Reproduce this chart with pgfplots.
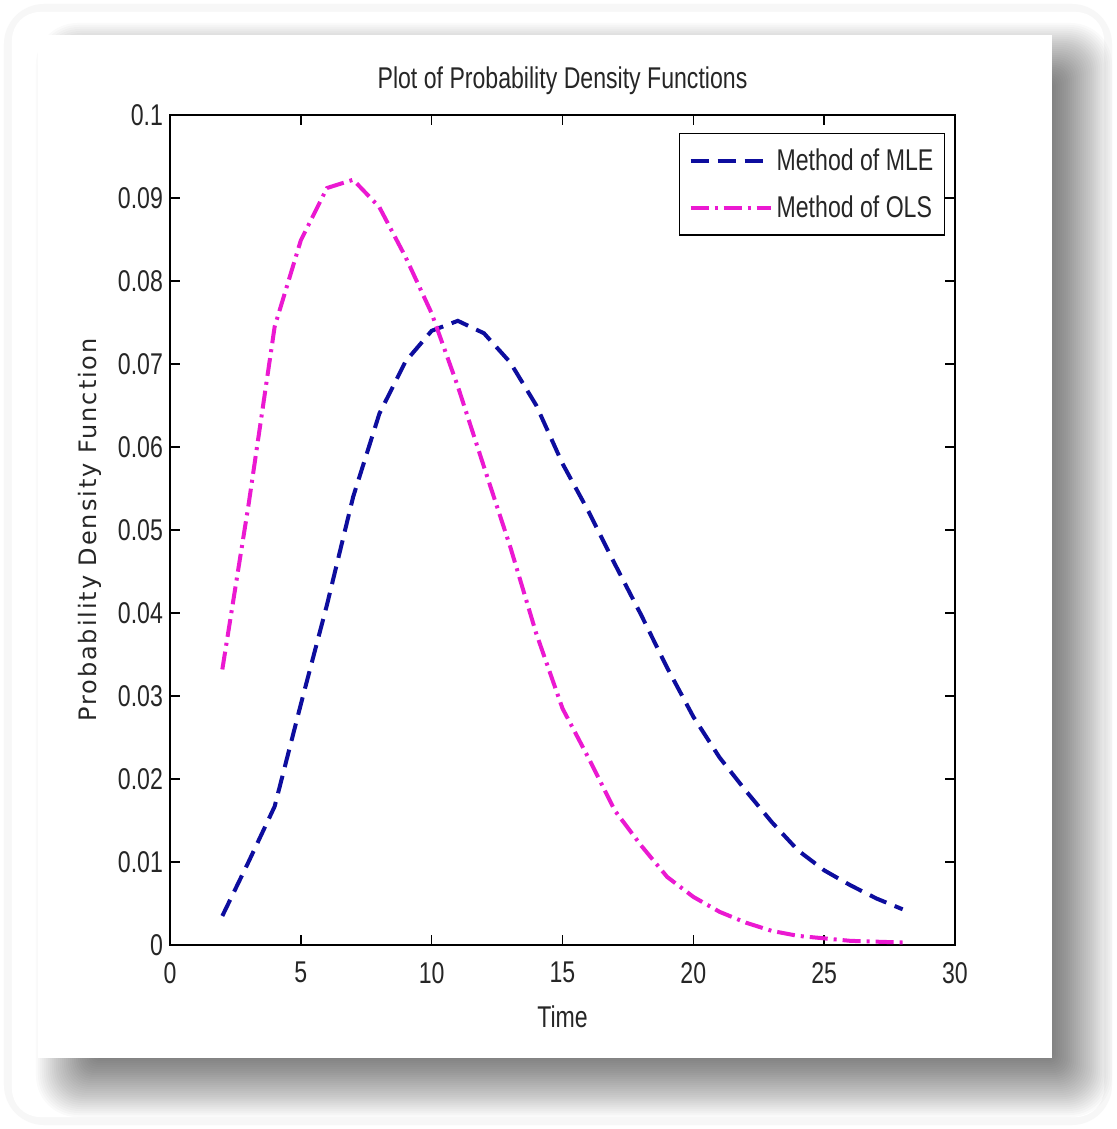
\documentclass[border=0pt]{standalone}
\usepackage{fontspec}
\setmainfont{Liberation Sans}[FakeStretch=0.77]
\newfontfamily\ylfont{DejaVu Sans}[LetterSpace=8]
\usepackage{pgfplots}
\pgfplotsset{compat=1.18}
\definecolor{mleblue}{rgb}{0.05,0.05,0.62}
\definecolor{olsmag}{rgb}{0.92,0.10,0.82}
\newcommand{\mfont}{\fontsize{15}{18}\selectfont}
\begin{document}
\begin{tikzpicture}
\useasboundingbox (-85pt,-92pt) rectangle (473pt,472.5pt);
\fill[white] (-85pt,-92pt) rectangle (473pt,472.5pt);
\fill[black!3, rounded corners=20pt] (-83pt,-90pt) rectangle (471pt,470.5pt);
\fill[white, rounded corners=14pt] (-79pt,-86pt) rectangle (467pt,466.5pt);
\foreach \i in {0,...,31} {
  \fill[black, opacity=0.021, rounded corners={2pt+\i*0.6pt}]
    ({-36pt-\i*1pt},{-55pt-\i*1pt}) rectangle ({440pt+\i*1pt},{430pt+\i*1pt});
}
\fill[white] (-66pt,-56.5pt) rectangle (441pt,455pt);
\begin{axis}[
  at={(0,0)}, anchor=south west,
  scale only axis, width=392.5pt, height=415pt,
  xmin=0, xmax=30, ymin=0, ymax=0.1,
  xtick={0,5,10,15,20,25,30},
  xticklabels={0,5,10,15,20,25,30},
  ytick={0,0.01,0.02,0.03,0.04,0.05,0.06,0.07,0.08,0.09,0.1},
  yticklabels={0,0.01,0.02,0.03,0.04,0.05,0.06,0.07,0.08,0.09,0.1},
  tick align=inside, major tick length=5pt,
  tick style={black, line width=0.7pt},
  axis line style={black, line width=0.9pt},
  ticklabel style={font=\mfont, text=black!85},
  xticklabel style={yshift=-5pt},
  title={Plot of Probability Density Functions},
  title style={font=\mfont, text=black!85, at={(axis description cs:0.5,1)}, anchor=base, yshift=7pt},
  xlabel={Time},
  xlabel style={font=\mfont, text=black!85, at={(axis description cs:0.5,0)}, anchor=base, yshift=-41pt},
  ylabel={Probability Density Function},
  ylabel style={font=\ylfont\fontsize{12}{14}\selectfont, text=black!85, at={(axis description cs:-0.102,0.5)}, anchor=center},
  legend style={at={(axis description cs:1,1)}, anchor=north east, xshift=-5pt, yshift=-9pt,
    draw=black, line width=0.7pt, font=\mfont, text=black!85,
    inner xsep=4.5pt, inner ysep=6.5pt, row sep=9pt, column sep=1pt,
    nodes={inner sep=1pt}},
  legend cell align=left,
  legend image code/.code={\draw[#1] (0pt,0pt) -- (40pt,0pt);},
]
\addplot[mleblue, line width=2pt, dash pattern=on 9pt off 4.5pt] coordinates {
(2,0.0035) (3,0.0100) (4,0.0167) (5,0.0290) (6,0.0410) (7,0.0540) (8,0.0640)
(9,0.0703) (10,0.0740) (11,0.0752) (12,0.0737) (13,0.0702) (14,0.0650)
(15,0.0580) (16,0.0522) (17,0.0459) (18,0.0398) (19,0.0334) (20,0.0275)
(21,0.0226) (22,0.0186) (23,0.0148) (24,0.0114) (25,0.0090) (26,0.0072)
(27,0.0056) (28,0.0043)
};
\addlegendentry{Method of MLE}
\addplot[olsmag, line width=2pt, dash pattern=on 9pt off 3pt on 1.5pt off 3pt] coordinates {
(2,0.0332) (3,0.0530) (4,0.0745) (5,0.0849) (6,0.0912) (7,0.0922) (8,0.0889)
(9,0.0829) (10,0.0761) (11,0.0673) (12,0.0576) (13,0.0480) (14,0.0375)
(15,0.0285) (16,0.0225) (17,0.0162) (18,0.0120) (19,0.0082) (20,0.0058)
(21,0.0040) (22,0.0027) (23,0.0017) (24,0.0011) (25,0.0008) (26,0.0005)
(27,0.0004) (28,0.0003)
};
\addlegendentry{Method of OLS}
\end{axis}
\end{tikzpicture}
\end{document}
